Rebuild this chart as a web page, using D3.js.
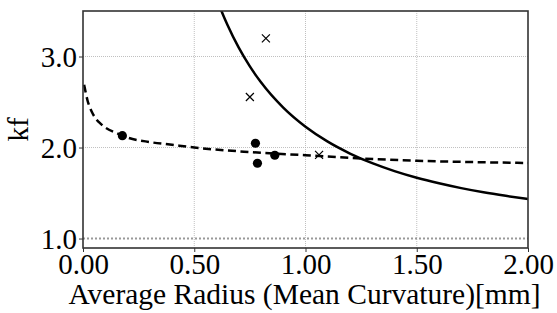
<!DOCTYPE html>
<html>
<head>
<meta charset="utf-8">
<script src="https://cdn.jsdelivr.net/npm/d3@7"></script>
<style>
  body { margin: 0; background: #fff; }
  text { font-family: "Liberation Serif", "Times New Roman", serif; }
</style>
</head>
<body>
<div id="chart"></div>
<script>
// x tick values and labels
const xTicks = [0, 0.5, 1.0, 1.5, 2.0];
const yTicks = [1.0, 2.0, 3.0];

// measured points (filled circles)
const dotX = [0.177, 0.775, 0.784, 0.862];
const dotY = [2.13, 2.047, 1.827, 1.915];

// measured points (crosses)
const crossX = [0.822, 0.75, 1.061];
const crossY = [3.20, 2.555, 1.92];

// dashed curve
const dashX = [0.005, 0.02, 0.04, 0.06, 0.08, 0.1, 0.15, 0.2, 0.3, 0.4, 0.5, 0.75, 1.0, 1.25, 1.5, 1.75, 2.0];
const dashY = [2.69, 2.52, 2.39, 2.31, 2.26, 2.22, 2.16, 2.11, 2.06, 2.03, 2.00, 1.95, 1.915, 1.88, 1.855, 1.84, 1.83];

// solid curve
const solidX = [0.6, 0.62, 0.65, 0.7, 0.75, 0.8, 0.9, 1.0, 1.1, 1.2, 1.3, 1.4, 1.5, 1.6, 1.7, 1.8, 1.9, 2.0];
const solidY = [3.65, 3.515, 3.343, 3.097, 2.891, 2.716, 2.438, 2.228, 2.064, 1.934, 1.828, 1.741, 1.668, 1.607, 1.554, 1.508, 1.469, 1.434];

const refLine = 1.0;

const svgWidth = 557;
const svgHeight = 313;
const margin = { top: 11, right: 29, bottom: 65, left: 83 };
const width = svgWidth - margin.left - margin.right;
const height = svgHeight - margin.top - margin.bottom;

const svg = d3.select("#chart").append("svg")
    .attr("width", svgWidth)
    .attr("height", svgHeight);

const g = svg.append("g")
    .attr("transform", `translate(${margin.left},${margin.top})`);

const x = d3.scaleLinear().domain([0, 2]).range([0, width]);
const y = d3.scaleLinear().domain([0.896, 3.5]).range([height, 0]);

g.append("clipPath").attr("id", "clip")
    .append("rect").attr("width", width).attr("height", height);

// grid
g.selectAll(".vgrid").data(xTicks.slice(1, -1)).enter().append("line")
    .attr("x1", d => x(d)).attr("x2", d => x(d))
    .attr("y1", 0).attr("y2", height)
    .attr("stroke", "#b0b0b0").attr("stroke-width", 0.8)
    .attr("stroke-dasharray", "1,1");
g.selectAll(".hgrid").data(yTicks.filter(d => d !== refLine)).enter().append("line")
    .attr("x1", 0).attr("x2", width)
    .attr("y1", d => y(d)).attr("y2", d => y(d))
    .attr("stroke", "#b0b0b0").attr("stroke-width", 0.8)
    .attr("stroke-dasharray", "1,1");

// reference line at kf = 1
g.append("line")
    .attr("x1", 0).attr("x2", width)
    .attr("y1", y(refLine)).attr("y2", y(refLine))
    .attr("stroke", "#999").attr("stroke-width", 2)
    .attr("stroke-dasharray", "2,2");

const line = d3.line().x(d => x(d[0])).y(d => y(d[1])).curve(d3.curveMonotoneX);

const plot = g.append("g").attr("clip-path", "url(#clip)");

plot.append("path")
    .datum(dashX.map((d, i) => [d, dashY[i]]))
    .attr("d", line)
    .attr("fill", "none").attr("stroke", "#000")
    .attr("stroke-width", 2.5).attr("stroke-dasharray", "8,4.5");

plot.append("path")
    .datum(solidX.map((d, i) => [d, solidY[i]]))
    .attr("d", line)
    .attr("fill", "none").attr("stroke", "#000")
    .attr("stroke-width", 2.5);

plot.selectAll(".dot").data(dotX).enter().append("circle")
    .attr("cx", d => x(d)).attr("cy", (d, i) => y(dotY[i]))
    .attr("r", 4.6).attr("fill", "#000");

const s = 4;
const crosses = plot.selectAll(".cross").data(crossX).enter().append("path")
    .attr("transform", (d, i) => `translate(${x(d)},${y(crossY[i])})`)
    .attr("d", `M${-s},${-s}L${s},${s}M${-s},${s}L${s},${-s}`)
    .attr("stroke", "#000").attr("stroke-width", 1.2).attr("fill", "none");

// axes
const xAxis = d3.axisBottom(x).tickValues(xTicks).tickFormat(d3.format(".2f")).tickSize(4).tickPadding(1);
const yAxis = d3.axisLeft(y).tickValues(yTicks).tickFormat(d3.format(".1f")).tickSize(4).tickPadding(2);

const gx = g.append("g").attr("transform", `translate(0,${height})`).call(xAxis);
const gy = g.append("g").call(yAxis);
[gx, gy].forEach(a => {
    a.select(".domain").remove();
    a.selectAll("line").attr("stroke", "#333");
    a.selectAll("text").attr("font-size", 29).attr("fill", "#000")
        .style("font-family", "'Liberation Serif', serif");
});
gy.selectAll("text").attr("dy", "0.33em");

// frame
g.append("rect")
    .attr("width", width).attr("height", height)
    .attr("fill", "none").attr("stroke", "#333").attr("stroke-width", 1.6);

// labels
g.append("text")
    .attr("x", width / 2 - 1).attr("y", height + 56)
    .attr("text-anchor", "middle").attr("font-size", 29.5)
    .text("Average Radius (Mean Curvature)[mm]");

g.append("text")
    .attr("transform", `translate(${-55},${height / 2}) rotate(-90)`)
    .attr("text-anchor", "middle").attr("font-size", 29)
    .text("kf");
</script>
</body>
</html>
